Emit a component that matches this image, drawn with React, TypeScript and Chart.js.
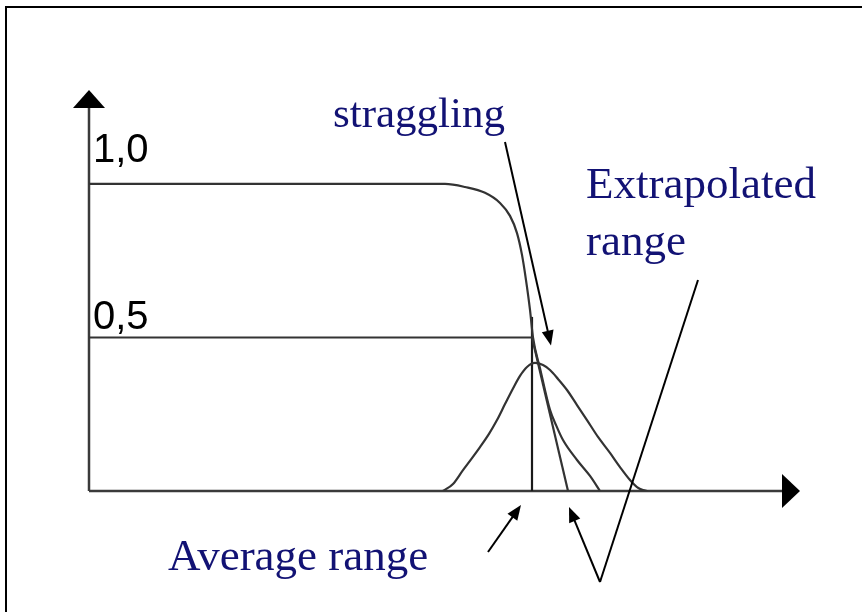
import { useEffect, useRef } from 'react';
import { Chart, registerables } from 'chart.js';

Chart.register(...registerables);

// Depth axis (arbitrary units) and transmitted fraction
const transmissionX = [0, 35.6, 37.6, 39.6, 41.1, 42.1, 42.8, 43.3, 43.7, 44.1, 44.4, 45.1, 46.1, 46.7, 47.4, 48.8, 50.1, 51.1];
const transmissionY = [1.0, 1.0, 0.99, 0.971, 0.938, 0.896, 0.84, 0.769, 0.687, 0.59, 0.5, 0.4, 0.264, 0.215, 0.166, 0.101, 0.049, 0];

// Range straggling distribution
const stragglingX = [35.4, 36.4, 37.4, 38.3, 39.1, 40.0, 40.8, 41.6, 42.4, 43.1, 43.8, 44.6, 45.4, 46.1, 46.9, 47.8, 48.8, 49.8, 50.9, 52.1, 53.1, 54.1, 54.8, 55.4, 55.9];
const stragglingY = [0, 0.023, 0.068, 0.107, 0.143, 0.186, 0.231, 0.283, 0.334, 0.375, 0.404, 0.417, 0.41, 0.394, 0.365, 0.329, 0.28, 0.231, 0.176, 0.124, 0.078, 0.036, 0.013, 0.003, 0];

const averageRange = 44.3;
const extrapolatedRange = 47.9;
const halfLevel = 0.5;
const averageMarkerTop = 0.567;

const yTickValues = [1.0, 0.5];
const yTickLabels = ['1,0', '0,5'];

const xMax = 71.1;
const yMax = 1.306;

const navy = '#121274';
const curveColor = '#333333';

function toPoints(xs: number[], ys: number[]) {
  return xs.map((x, i) => ({ x, y: ys[i] }));
}

function arrow(ctx: CanvasRenderingContext2D, x1: number, y1: number, x2: number, y2: number, head = 15, half = 6) {
  ctx.beginPath();
  ctx.moveTo(x1, y1);
  const ang = Math.atan2(y2 - y1, x2 - x1);
  const bx = x2 - Math.cos(ang) * (head - 2);
  const by = y2 - Math.sin(ang) * (head - 2);
  ctx.lineTo(bx, by);
  ctx.stroke();
  ctx.beginPath();
  ctx.moveTo(x2, y2);
  ctx.lineTo(x2 - Math.cos(ang) * head - Math.sin(ang) * half, y2 - Math.sin(ang) * head + Math.cos(ang) * half);
  ctx.lineTo(x2 - Math.cos(ang) * head + Math.sin(ang) * half, y2 - Math.sin(ang) * head - Math.cos(ang) * half);
  ctx.closePath();
  ctx.fill();
}

const diagramPlugin = {
  id: 'diagram',
  beforeDatasetsDraw(chart: any) {
    const { ctx, chartArea, scales } = chart;
    const x0 = scales.x.getPixelForValue(0);
    const y0 = scales.y.getPixelForValue(0);
    ctx.save();
    // outer frame
    ctx.strokeStyle = '#000';
    ctx.lineWidth = 2;
    ctx.strokeRect(6, 7, 1000, 1000);

    // axes with arrowheads
    ctx.strokeStyle = '#3a3a3a';
    ctx.fillStyle = '#000';
    ctx.lineWidth = 2.5;
    ctx.beginPath();
    ctx.moveTo(x0, y0);
    ctx.lineTo(x0, chartArea.top + 12);
    ctx.moveTo(x0, y0);
    ctx.lineTo(chartArea.right - 12, y0);
    ctx.stroke();

    ctx.beginPath();
    ctx.moveTo(x0, chartArea.top);
    ctx.lineTo(x0 - 16, chartArea.top + 18);
    ctx.lineTo(x0 + 16, chartArea.top + 18);
    ctx.closePath();
    ctx.fill();

    ctx.beginPath();
    ctx.moveTo(chartArea.right, y0);
    ctx.lineTo(chartArea.right - 18, y0 - 17);
    ctx.lineTo(chartArea.right - 18, y0 + 17);
    ctx.closePath();
    ctx.fill();

    // level labels
    ctx.fillStyle = '#000';
    ctx.font = '40px "Liberation Sans", Arial, sans-serif';
    ctx.textBaseline = 'alphabetic';
    ctx.textAlign = 'left';
    const labelLift = [22, 8];
    yTickValues.forEach((v, i) => {
      ctx.fillText(yTickLabels[i], x0 + 4, scales.y.getPixelForValue(v) - labelLift[i]);
    });
    ctx.restore();
  },
  afterDatasetsDraw(chart: any) {
    const { ctx, scales } = chart;
    const y0 = scales.y.getPixelForValue(0);
    const avgPx = scales.x.getPixelForValue(averageRange);
    const extPx = scales.x.getPixelForValue(extrapolatedRange);
    ctx.save();
    ctx.fillStyle = navy;
    ctx.textBaseline = 'alphabetic';
    ctx.textAlign = 'left';
    ctx.font = '43px "Liberation Serif", "Times New Roman", serif';
    ctx.fillText('straggling', 333, 127);
    ctx.font = '45px "Liberation Serif", "Times New Roman", serif';
    ctx.fillText('Extrapolated', 586, 198);
    ctx.fillText('range', 586, 255);
    ctx.fillText('Average range', 168, 570);

    ctx.strokeStyle = '#000';
    ctx.fillStyle = '#000';
    ctx.lineWidth = 2;
    // straggling pointer
    arrow(ctx, 505, 142, avgPx + 19, scales.y.getPixelForValue(halfLevel) + 8);
    // average range pointer
    arrow(ctx, 488, 552, avgPx - 11, y0 + 14);
    // extrapolated range pointers
    const apexX = 600;
    const apexY = 582;
    arrow(ctx, apexX, apexY, extPx + 1, y0 + 16);
    ctx.beginPath();
    ctx.moveTo(apexX, apexY);
    ctx.lineTo(698, 280);
    ctx.stroke();
    ctx.restore();
  },
};

export default function App() {
  const canvasRef = useRef<HTMLCanvasElement | null>(null);

  useEffect(() => {
    if (!canvasRef.current) return;
    const lineStyle = {
      showLine: true,
      borderColor: curveColor,
      borderWidth: 2.2,
      pointRadius: 0,
      fill: false,
    };
    const chart = new Chart(canvasRef.current, {
      type: 'scatter',
      data: {
        datasets: [
          { ...lineStyle, data: toPoints(transmissionX, transmissionY), cubicInterpolationMode: 'monotone' },
          {
            ...lineStyle,
            data: [
              { x: averageRange, y: halfLevel },
              { x: extrapolatedRange, y: 0 },
            ],
          },
          { ...lineStyle, data: toPoints(stragglingX, stragglingY), cubicInterpolationMode: 'monotone' },
          {
            ...lineStyle,
            data: [
              { x: 0, y: halfLevel },
              { x: averageRange, y: halfLevel },
            ],
          },
          {
            ...lineStyle,
            borderColor: '#1a1a1a',
            data: [
              { x: averageRange, y: 0 },
              { x: averageRange, y: averageMarkerTop },
            ],
          },
        ] as any,
      },
      options: {
        responsive: false,
        animation: false,
        layout: { padding: { left: 89, right: 62, top: 90, bottom: 121 } },
        plugins: { legend: { display: false }, tooltip: { enabled: false } },
        scales: {
          x: { type: 'linear', min: 0, max: xMax, display: false },
          y: { type: 'linear', min: 0, max: yMax, display: false },
        },
      },
      plugins: [diagramPlugin],
    });
    return () => chart.destroy();
  }, []);

  return (
    <div style={{ position: 'absolute', left: 0, top: 0, width: 862, height: 612, background: '#fff' }}>
      <canvas ref={canvasRef} width={862} height={612} />
    </div>
  );
}
